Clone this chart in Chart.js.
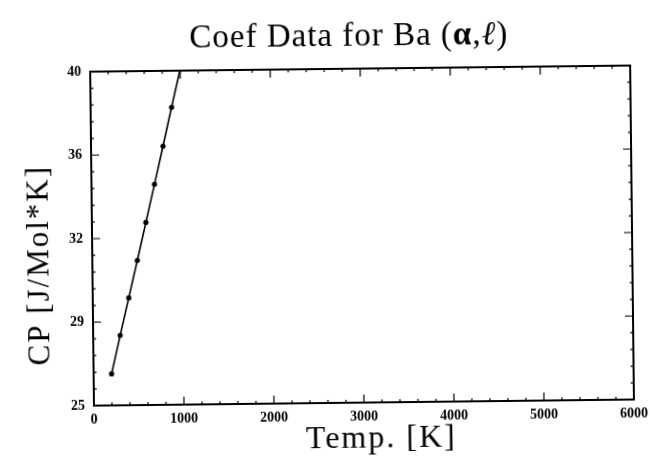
<!DOCTYPE html>
<html>
<head>
<meta charset="utf-8">
<script src="https://cdn.jsdelivr.net/npm/chart.js@4/dist/chart.umd.min.js"></script>
<style>
  html, body { margin: 0; padding: 0; background: #fff; overflow: hidden; }
  #myChart { display: block; transform: rotate(-0.65deg); transform-origin: 50% 50%; }
</style>
</head>
<body>
<canvas id="myChart" width="652" height="461"></canvas>
<script>
// data
const temps = [200, 300, 400, 500, 600, 700, 800, 900, 1000];
const cpValues = [26.42, 28.14, 29.82, 31.5, 33.2, 34.91, 36.62, 38.36, 40.07];

const xTicks = [0, 1000, 2000, 3000, 4000, 5000, 6000];
const yTicks = [25, 28.75, 32.5, 36.25, 40];
const yTickLabels = ["25", "29", "32", "36", "40"];

const serif = "'Liberation Serif', 'Times New Roman', serif";

// inward ticks on all four sides + box frame
const frameTicks = {
  id: "frameTicks",
  afterDraw(chart) {
    const { ctx, chartArea: a, scales: { x, y } } = chart;
    ctx.save();
    ctx.strokeStyle = "#000";
    ctx.lineWidth = 1.2;
    ctx.beginPath();
    for (let i = 0; i <= 30; i++) {
      const px = x.getPixelForValue(i * 200);
      const len = i % 5 === 0 ? 8 : 3;
      ctx.moveTo(px, a.bottom); ctx.lineTo(px, a.bottom - len);
      ctx.moveTo(px, a.top); ctx.lineTo(px, a.top + len);
    }
    for (let i = 0; i <= 20; i++) {
      const py = y.getPixelForValue(25 + i * 0.75);
      const len = i % 5 === 0 ? 8 : 3;
      ctx.moveTo(a.left, py); ctx.lineTo(a.left + len, py);
      ctx.moveTo(a.right, py); ctx.lineTo(a.right - len, py);
    }
    ctx.stroke();
    ctx.lineWidth = 2;
    ctx.strokeRect(a.left, a.top, a.right - a.left, a.bottom - a.top);
    ctx.restore();
  }
};

// title and axis titles
const titles = {
  id: "titles",
  afterDraw(chart) {
    const ctx = chart.ctx;
    ctx.save();
    ctx.fillStyle = "#000";
    ctx.textBaseline = "alphabetic";

    ctx.letterSpacing = "1px";
    const parts = [
      { t: "Coef Data for Ba (", f: "33px " + serif },
      { t: "α", f: "bold 33px " + serif },
      { t: ",", f: "33px " + serif },
      { t: "ℓ", f: "italic 33px " + serif },
      { t: ")", f: "33px " + serif }
    ];
    let total = 0;
    parts.forEach(p => { ctx.font = p.f; p.w = ctx.measureText(p.t).width; total += p.w; });
    let tx = 351 - total / 2;
    parts.forEach(p => { ctx.font = p.f; ctx.fillText(p.t, tx, 46); tx += p.w; });

    ctx.font = "32px " + serif;
    ctx.letterSpacing = "2px";
    ctx.textAlign = "center";
    ctx.fillText("Temp. [K]", 379, 448);

    ctx.font = "31px " + serif;
    ctx.letterSpacing = "2px";
    ctx.translate(40, 262);
    ctx.rotate(-Math.PI / 2);
    ctx.textBaseline = "middle";
    ctx.fillText("CP [J/Mol*K]", 0, 0);
    ctx.restore();
  }
};

new Chart("myChart", {
  type: "line",
  data: {
    datasets: [
      {
        data: temps.map((t, i) => ({ x: t, y: cpValues[i] })),
        borderColor: "#000",
        backgroundColor: "#000",
        borderWidth: 1.6,
        pointRadius: (c) => (c.raw && c.raw.y > 40 ? 0 : 2.6),
        pointBorderWidth: 0,
        tension: 0
      }
    ]
  },
  options: {
    responsive: false,
    animation: false,
    layout: { padding: { top: 69, right: 20, bottom: 0, left: 0 } },
    plugins: {
      legend: { display: false },
      tooltip: { enabled: false },
      title: { display: false }
    },
    scales: {
      x: {
        type: "linear",
        min: 0,
        max: 6000,
        grid: { display: false, drawTicks: false },
        border: { display: false },
        ticks: {
          color: "#000",
          padding: 6,
          maxRotation: 0,
          font: { family: serif, size: 14, weight: "bold" },
          callback: (v) => String(v)
        },
        afterBuildTicks: (s) => { s.ticks = xTicks.map(v => ({ value: v })); },
        afterFit: (s) => { s.height = 58; }
      },
      y: {
        min: 25,
        max: 40,
        grid: { display: false, drawTicks: false },
        border: { display: false },
        ticks: {
          color: "#000",
          padding: 9,
          font: { family: serif, size: 14, weight: "bold" },
          callback: (v, i) => yTickLabels[i]
        },
        afterBuildTicks: (s) => { s.ticks = yTicks.map(v => ({ value: v })); },
        afterFit: (s) => { s.width = 92; }
      }
    }
  },
  plugins: [frameTicks, titles]
});
</script>
</body>
</html>
